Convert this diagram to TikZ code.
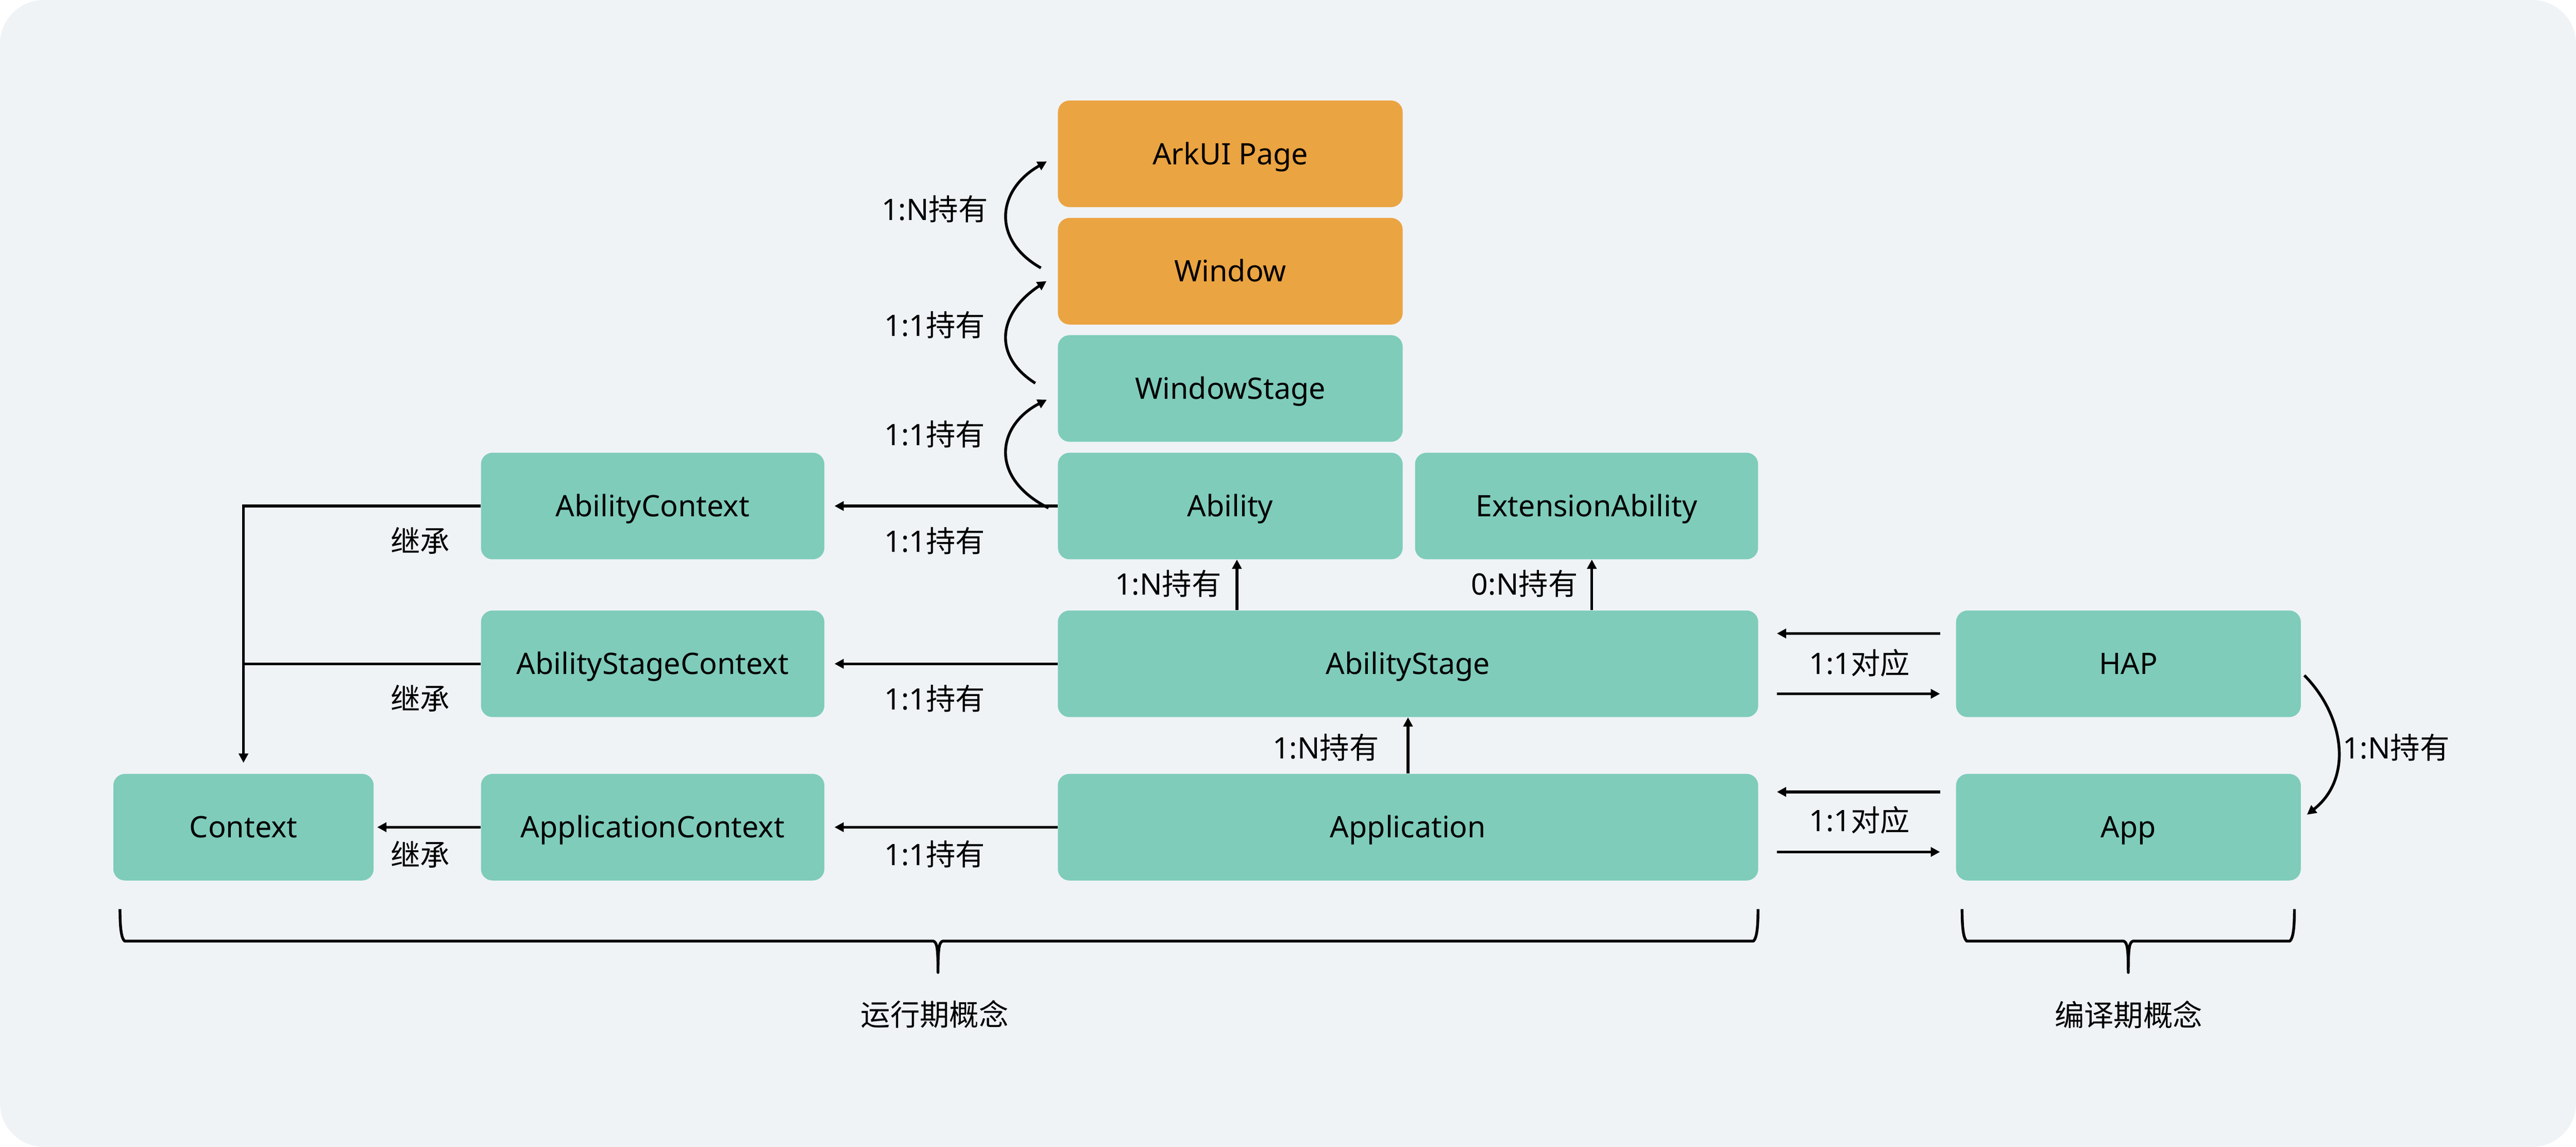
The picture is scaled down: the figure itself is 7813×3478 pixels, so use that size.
\documentclass[tikz,border=0pt]{standalone}
\usepackage{fontspec}
\setmainfont{Noto Sans}
\newfontfamily\cjk{Noto Sans CJK SC}
\usetikzlibrary{arrows.meta,calc}
\definecolor{tealbox}{HTML}{7FCCBB}
\definecolor{orangebox}{HTML}{EBA442}
\definecolor{bgpanel}{HTML}{EFF3F6}
\begin{document}
\begin{tikzpicture}[x=0.01cm,y=-0.01cm,
  box/.style={rounded corners=0.35cm, minimum height=3.23cm, inner sep=0pt, font=\fontsize{25.5}{30}\selectfont, text=black, text height=18.2pt, text depth=0pt},
  tbox/.style={box, fill=tealbox},
  obox/.style={box, fill=orangebox},
  lbl/.style={font=\fontsize{25.5}{30}\selectfont, inner sep=0pt, text=black},
  conn/.style={line width=0.085cm, draw=black},
  arr/.style={conn, -{Triangle[length=0.28cm,width=0.28cm]}},
]
% background
\fill[white] (0,0) rectangle (7813,3478);
\fill[bgpanel, rounded corners=1.33cm] (0,0) rectangle (7813,3478);
\useasboundingbox (0,0) rectangle (7813,3478);

% boxes
\node[obox, minimum width=10.45cm] (arkui) at (3731.5,466.5) {ArkUI Page};
\node[obox, minimum width=10.45cm] (window) at (3731.5,822.5) {Window};
\node[tbox, minimum width=10.45cm] (wstage) at (3731.5,1178) {WindowStage};
\node[tbox, minimum width=10.45cm] (ability) at (3731.5,1534.5) {Ability};
\node[tbox, minimum width=10.40cm] (ext) at (4812,1534.5) {ExtensionAbility};
\node[tbox, minimum width=21.23cm] (astage) at (4270.5,2013) {AbilityStage};
\node[tbox, minimum width=21.23cm] (app) at (4270.5,2508.5) {Application};
\node[tbox, minimum width=10.41cm] (actx) at (1979.5,1534.5) {AbilityContext};
\node[tbox, minimum width=10.41cm] (asctx) at (1979.5,2013) {AbilityStageContext};
\node[tbox, minimum width=10.41cm] (appctx) at (1979.5,2508.5) {ApplicationContext};
\node[tbox, minimum width=7.89cm] (context) at (738.5,2508.5) {Context};
\node[tbox, minimum width=10.45cm] (hap) at (6455.5,2013) {HAP};
\node[tbox, minimum width=10.45cm] (appc) at (6455.5,2508.5) {App};

% labels
\node[lbl] (l1) at (2835,634) {1:N{\cjk 持有}};
\node[lbl] (l2) at (2835,986) {1:1{\cjk 持有}};
\node[lbl] (l3) at (2835,1317) {1:1{\cjk 持有}};
\node[lbl] (l4) at (2835,1640) {1:1{\cjk 持有}};
\node[lbl] (l5) at (2835,2118) {1:1{\cjk 持有}};
\node[lbl] (l6) at (2835,2591) {1:1{\cjk 持有}};
\node[lbl] (i1) at (1275,1640) {\cjk 继承};
\node[lbl] (i2) at (1275,2118) {\cjk 继承};
\node[lbl] (i3) at (1275,2591) {\cjk 继承};
\node[lbl] (v1) at (3543,1770) {1:N{\cjk 持有}};
\node[lbl] (v2) at (4624,1770) {0:N{\cjk 持有}};
\node[lbl] (v3) at (4021,2267) {1:N{\cjk 持有}};
\node[lbl] (h1) at (5640,2010) {1:1{\cjk 对应}};
\node[lbl] (h2) at (5640,2487) {1:1{\cjk 对应}};
\node[lbl] (hc) at (7268,2267) {1:N{\cjk 持有}};
\node[lbl] (run) at (2835,3075) {\cjk 运行期概念};
\node[lbl] (comp) at (6456,3077) {\cjk 编译期概念};

% horizontal holding arrows
\draw[arr] (ability.west) -- ($(actx.east)+(30,0)$);
\draw[arr] (astage.west) -- ($(asctx.east)+(30,0)$);
\draw[arr] (app.west) -- ($(appctx.east)+(30,0)$);

% inheritance
\draw[arr] (actx.west) -| ($(context.north)+(0,-33)$);
\draw[conn] (asctx.west) -- (asctx.west -| context.north);
\draw[arr] (appctx.west) -- ($(context.east)+(10,0)$);

% vertical arrows
\draw[arr] ($(ability.south |- astage.north)+(20,0)$) -- ($(ability.south)+(20,0)$);
\draw[arr] ($(ext.south |- astage.north)+(16,0)$) -- ($(ext.south)+(16,0)$);
\draw[arr] (app.north) -- (astage.south);

% HAP / App correspondences
\draw[arr] ($(hap.west)+(-48,-92)$) -- ($(astage.east)+(56,-92)$);
\draw[arr] ($(astage.east)+(56,91)$) -- ($(hap.west)+(-48,91)$);
\draw[arr] ($(appc.west)+(-48,-107)$) -- ($(app.east)+(56,-107)$);
\draw[arr] ($(app.east)+(56,75)$) -- ($(appc.west)+(-48,75)$);

% HAP -> App curve
\coordinate (hs) at ($(hap.east)+(10,35)$);
\coordinate (he) at ($(appc.east)+(18,-38)$);
\draw[arr] (hs) .. controls (7110,2170) and (7138,2360) .. (he);

% left curved arrows
\coordinate (s1) at ($(ability.west)+(-28,6)$);
\coordinate (e1) at ($(wstage.west)+(-33,34)$);
\draw[arr] (s1) .. controls (3000,1450) and (3022,1291) .. (e1);
\coordinate (s2) at ($(wstage.west)+(-68,-16)$);
\coordinate (e2) at ($(window.west)+(-34,30)$);
\draw[arr] (s2) .. controls (3010,1080) and (3026,950) .. (e2);
\coordinate (s3) at ($(window.west)+(-51,-10)$);
\coordinate (e3) at ($(arkui.west)+(-33,23)$);
\draw[arr] (s3) .. controls (3010,730) and (3020,578) .. (e3);

% braces
\draw[conn, line join=round] (364,2757) .. controls (364,2815) and (368,2845) .. (378,2854)
  -- (2831,2854) .. controls (2841,2858) and (2845,2870) .. (2845,2949)
  .. controls (2845,2870) and (2849,2858) .. (2859,2854)
  -- (5318,2854) .. controls (5328,2845) and (5332,2815) .. (5332,2757);
\draw[conn, line join=round] (5951,2757) .. controls (5951,2815) and (5955,2845) .. (5965,2854)
  -- (6441,2854) .. controls (6451,2858) and (6455,2870) .. (6455,2949)
  .. controls (6455,2870) and (6459,2858) .. (6469,2854)
  -- (6945,2854) .. controls (6955,2845) and (6959,2815) .. (6959,2757);
\end{tikzpicture}
\end{document}
